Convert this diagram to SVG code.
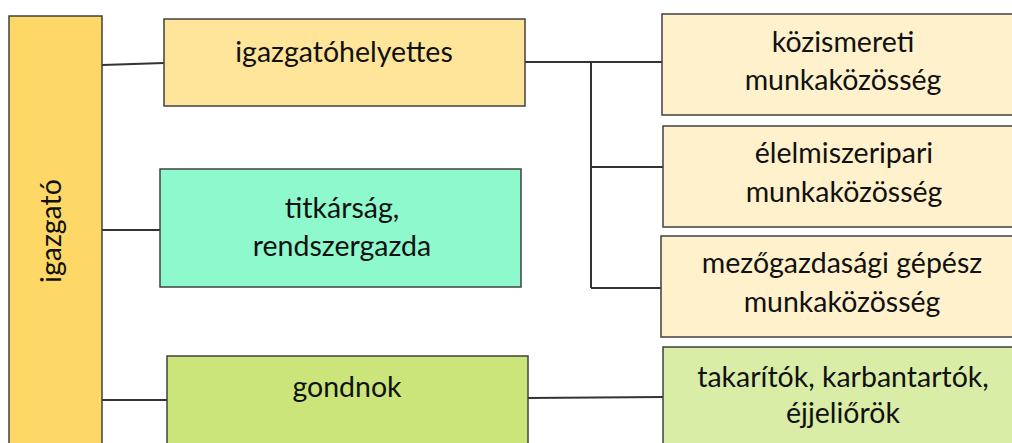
<svg xmlns="http://www.w3.org/2000/svg" width="1012" height="443" viewBox="0 0 1012 443">
<style>
.box{stroke:#404040;stroke-width:1.5}
.t{font-family:Lato,"Open Sans","Liberation Sans",sans-serif;font-size:28.5px;fill:#111;text-anchor:middle}
.c{stroke:#333;stroke-width:2;fill:none}
</style>
<rect width="1012" height="443" fill="#fff"/>
<g id="connectors">
<path class="c" d="M102 65L164 63"/>
<path class="c" d="M100 230H160"/>
<path class="c" d="M102 400H167"/>
<path class="c" d="M525 62H662M591 62V288M591 167H663M591 288H661"/>
<path class="c" d="M528 398L663 397"/>
</g>
<g id="igazgato"><rect class="box" x="9" y="16" width="93" height="440" fill="#FDD866"/><text class="t" transform="translate(61 231) rotate(-90)">igazgató</text></g>
<g id="igazgatohelyettes"><rect class="box" x="164" y="19" width="361" height="87" fill="#FFE599"/><text class="t" x="344" y="62">igazgatóhelyettes</text></g>
<g id="titkarsag"><rect class="box" x="160" y="169" width="361" height="118" fill="#8DF9CC"/><text class="t" x="342" y="218">titkárság,</text><text class="t" x="342" y="256">rendszergazda</text></g>
<g id="gondnok"><rect class="box" x="167" y="356" width="361" height="100" fill="#CBE57A"/><text class="t" x="347" y="397">gondnok</text></g>
<g id="kozismereti"><rect class="box" x="662" y="14" width="362" height="101" fill="#FFF1CC"/><text class="t" x="843" y="52">közismereti</text><text class="t" x="843" y="90">munkaközösség</text></g>
<g id="elelmiszeripari"><rect class="box" x="663" y="126" width="362" height="101" fill="#FFF1CC"/><text class="t" x="844" y="163">élelmiszeripari</text><text class="t" x="844" y="202">munkaközösség</text></g>
<g id="mezogazdasagi"><rect class="box" x="661" y="236" width="362" height="101" fill="#FFF1CC"/><text class="t" x="842" y="273">mezőgazdasági gépész</text><text class="t" x="842" y="312">munkaközösség</text></g>
<g id="takaritok"><rect class="box" x="663" y="347" width="362" height="110" fill="#D9EDA7"/><text class="t" x="843" y="387">takarítók, karbantartók,</text><text class="t" x="843" y="423">éjjeliőrök</text></g>
</svg>
